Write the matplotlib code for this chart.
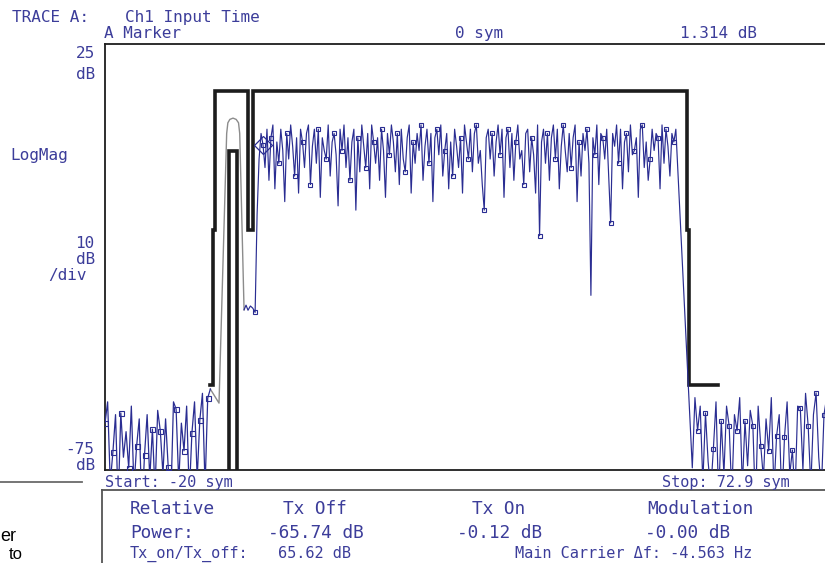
import numpy as np
import matplotlib
matplotlib.use("Agg")
import matplotlib.pyplot as plt

# ---------------- data (sym, dB) ----------------
X_START, X_STOP = -20.0, 72.9
Y_TOP, Y_BOT = 25.0, -75.0
NOISE_STEP = 1.0 / 3.0
BURST_STEP = 0.25

# pre-burst noise, sampled every 1/3 symbol from -20 sym
pre_db = [-64, -59, -78, -70.8, -62, -83, -61.6, -72, -66, -74.5, -60, -79,
          -69.4, -63, -85, -71.5, -62, -77, -65.4, -80, -61, -65.8, -76, -63,
          -74.3, -82, -59, -60.7, -78, -64, -70.5, -60, -81, -66.3, -59, -77,
          -63.3, -57, -79, -58.1, -56]

# fast ramp / pre-pulse (drawn thin grey)
ramp_sym = [-6.67, -5.57, -4.6, -4.45, -4.2, -3.8, -3.4, -3.1, -2.95, -2.4]
ramp_db = [-56, -59.3, 4, 6.5, 7.3, 7.6, 7.3, 6.5, 4, -37.4]

# lead-in before the burst
lead_sym = [-2.4, -2.15, -1.9, -1.6, -1.3]
lead_db = [-37.4, -36.3, -37.5, -36.5, -37.0]

# burst, every 1/4 symbol from -1 sym
burst_db = [
    -38, -15, -2, 4,    1.3, -4, 5, -7,    3, 6, -9, 2,     -3, 5, 0, -12,
    4, -2, 6, 1,        -6, 3, -10, 5,     2, -4, 4, 6,     -8, 1, 5, -3,
    5, -11, 3, 0,       -2, 6, -6, 2,      4, -1, -13, 5,   0, 6, -4, 3,
    -7, 2, 5, -14,      3, -5, 6, 1,       -4, 4, -9, 6,    2, -3, 3, -7,
    5, 0, -11, 4,       -1, 6, 2, -5,      4, -8, 5, -2,    -5, 3, 6, -10,
    2, -3, 4, 0,        6, -7, 1, 5,       -3, 4, -12, 3,   5, -1, 6, -6,
    0, 4, -9, 2,        -6, 5, 1, -4,      3, -10, 6, 2,    -2, 5, -5, 4,
    6, -3, 0, -8,       -14, 3, 5, -2,     4, -6, 2, 6,     -1, 5, -11, 3,
    5, -4, 4, -7,       2, 6, -2, 0,       -8, 4, 5, -5,    3, -1, -10, 6,
    -20, 2, 5, -3,      4, -7, 3, 6,       -2, 5, -9, 1,    6, 0, -5, 4,
    -4, 3, 6, -12,      2, -6, 4, 0,       5, -3, -34, 3,   -1, 6, -8, 4,
    3, -2, 5, -6,       -17, 4, 1, 6,      -3, 5, -9, 2,    4, -5, 6, -1,
    0, 3, -11, 5,       6, -4, 2, -7,      -2, 5, 0, 4,     3, -9, 6, -3,
    5, 1, -6, 4,        2, 5]

# post-burst noise, every 1/3 symbol from 54.33 sym
post_db = [-74.5, -58, -65.8, -60, -78, -61.6, -73, -80, -70, -59, -82, -63.5,
           -76, -60, -64.7, -81, -62, -65.8, -58, -79, -63.5, -74, -61, -64.7,
           -84, -60, -69.4, -77, -63, -70.5, -58, -80, -67, -62, -83, -67.3,
           -59, -76, -70.3, -81, -60, -60.4, -75, -57, -64.7, -79, -62, -56.9,
           -72, -80, -62, -58, -77, -66, -60, -74, -63]

# limit mask
upper_mask_sym = [-6.7, -6.35, -6.35, -6.1, -6.1, -1.9, -1.9, -1.25, -1.25,
                  53.7, 53.7, 53.95, 53.95, 57.6]
upper_mask_db = [-55, -55, -18.7, -18.7, 14, 14, -18.7, -18.7, 14,
                 14, -18.7, -18.7, -55, -55]
lower_mask_sym = [-4.3, -4.3, -3.3, -3.3]
lower_mask_db = [-120, 0, 0, -120]

MARKER_SYM, MARKER_DB = 0.0, 1.314

# ---------------- figure ----------------
W, H = 825, 563
fig = plt.figure(figsize=(W / 100, H / 100), dpi=100)
fig.patch.set_facecolor("white")

TXT = "#3c3d9a"
BLUE = "#2a2d92"
MONO = "DejaVu Sans Mono"


def px(x, y):
    return x / W, 1 - y / H


def ftext(x, y, s, ha="left", size=11.5, color=TXT, family=MONO):
    fig.text(*px(x, y), s, ha=ha, va="baseline", fontsize=size,
             color=color, family=family)


ax = fig.add_axes([105 / W, 1 - 470 / H, 734 / W, 426 / H])
ax.set_xlim(X_START, X_STOP)
ax.set_ylim(Y_BOT, Y_TOP)
ax.set_xticks([])
ax.set_yticks([])
for side in ["left", "top", "bottom"]:
    ax.spines[side].set_color("#1e1e1e")
    ax.spines[side].set_linewidth(1.3)
ax.spines["right"].set_visible(False)

pre_sym = X_START + np.arange(len(pre_db)) * NOISE_STEP
burst_sym = -1 + np.arange(len(burst_db)) * BURST_STEP
post_sym = 54 + (np.arange(len(post_db)) + 1) * NOISE_STEP


def sym_marks(s):
    s = np.asarray(s, dtype=float)
    return list(np.where(np.abs(s - np.round(s)) < 1e-6)[0])


# mask
ax.plot(upper_mask_sym, upper_mask_db, color="#1c1c1c", lw=2.6,
        solid_joinstyle="miter", zorder=2)
ax.plot(lower_mask_sym, lower_mask_db, color="#1c1c1c", lw=2.6,
        solid_joinstyle="miter", zorder=2)

# ramp (thin grey)
ax.plot(ramp_sym, ramp_db, color="#8c8c8c", lw=1.0, zorder=3)

# pre noise
ax.plot(pre_sym, pre_db, color=BLUE, lw=0.9, marker="s", ms=3.6,
        mfc="none", mew=0.8, markevery=sym_marks(pre_sym), zorder=4)

# lead + burst + post
main_sym = np.concatenate([lead_sym, burst_sym, post_sym])
main_db = np.concatenate([lead_db, burst_db, post_db])
ax.plot(main_sym, main_db, color=BLUE, lw=0.85, marker="s", ms=3.4,
        mfc="none", mew=0.8, markevery=sym_marks(main_sym), zorder=4)

# marker A
ax.plot([MARKER_SYM], [MARKER_DB], marker="D", ms=9, mfc="none", mec=BLUE,
        mew=0.9, zorder=5)

# ---------------- texts ----------------
ftext(12, 22, "TRACE A:")
ftext(125, 22, "Ch1 Input Time")
ftext(104, 38, "A Marker")
ftext(455, 38, "0 sym")
ftext(757, 38, "1.314 dB", ha="right")

ftext(95, 58, "25", ha="right")
ftext(95, 79, "dB", ha="right")
ftext(10, 160, "LogMag")
ftext(94, 248, "10", ha="right")
ftext(95, 264, "dB", ha="right")
ftext(48, 280, "/div")
ftext(94, 454, "-75", ha="right")
ftext(95, 470, "dB", ha="right")

ftext(105, 487, "Start: -20 sym", size=11)
ftext(790, 487, "Stop: 72.9 sym", ha="right", size=11)

BS = 12.8
ftext(130, 514, "Relative", size=BS)
ftext(283, 514, "Tx Off", size=BS)
ftext(472, 514, "Tx On", size=BS)
ftext(647, 514, "Modulation", size=BS)
ftext(130, 538, "Power:", size=BS)
ftext(268, 538, "-65.74 dB", size=BS)
ftext(457, 538, "-0.12 dB", size=BS)
ftext(645, 538, "-0.00 dB", size=BS)
ftext(130, 558, "Tx_on/Tx_off:", size=11)
ftext(278, 558, "65.62 dB", size=11)
ftext(515, 558, "Main Carrier \u0394f: -4.563 Hz", size=11)

# stray page text at the left edge
ftext(0, 541, "er", size=13, color="black", family="Liberation Sans")
ftext(9, 559, "to", size=12, color="black", family="Liberation Sans")


# ---------------- lines outside the axes ----------------
def fline(xs, ys, color="#555555", lw=1.2):
    fig.add_artist(plt.Line2D([x / W for x in xs], [1 - y / H for y in ys],
                              color=color, lw=lw, transform=fig.transFigure))


fline([0, 82], [482, 482], color="#6a6a6a", lw=1.3)
fline([102, 825], [490, 490], color="#555555", lw=1.3)
fline([102, 102], [490, 563], color="#555555", lw=1.3)

fig.savefig("out.png", dpi=100, facecolor="white")
